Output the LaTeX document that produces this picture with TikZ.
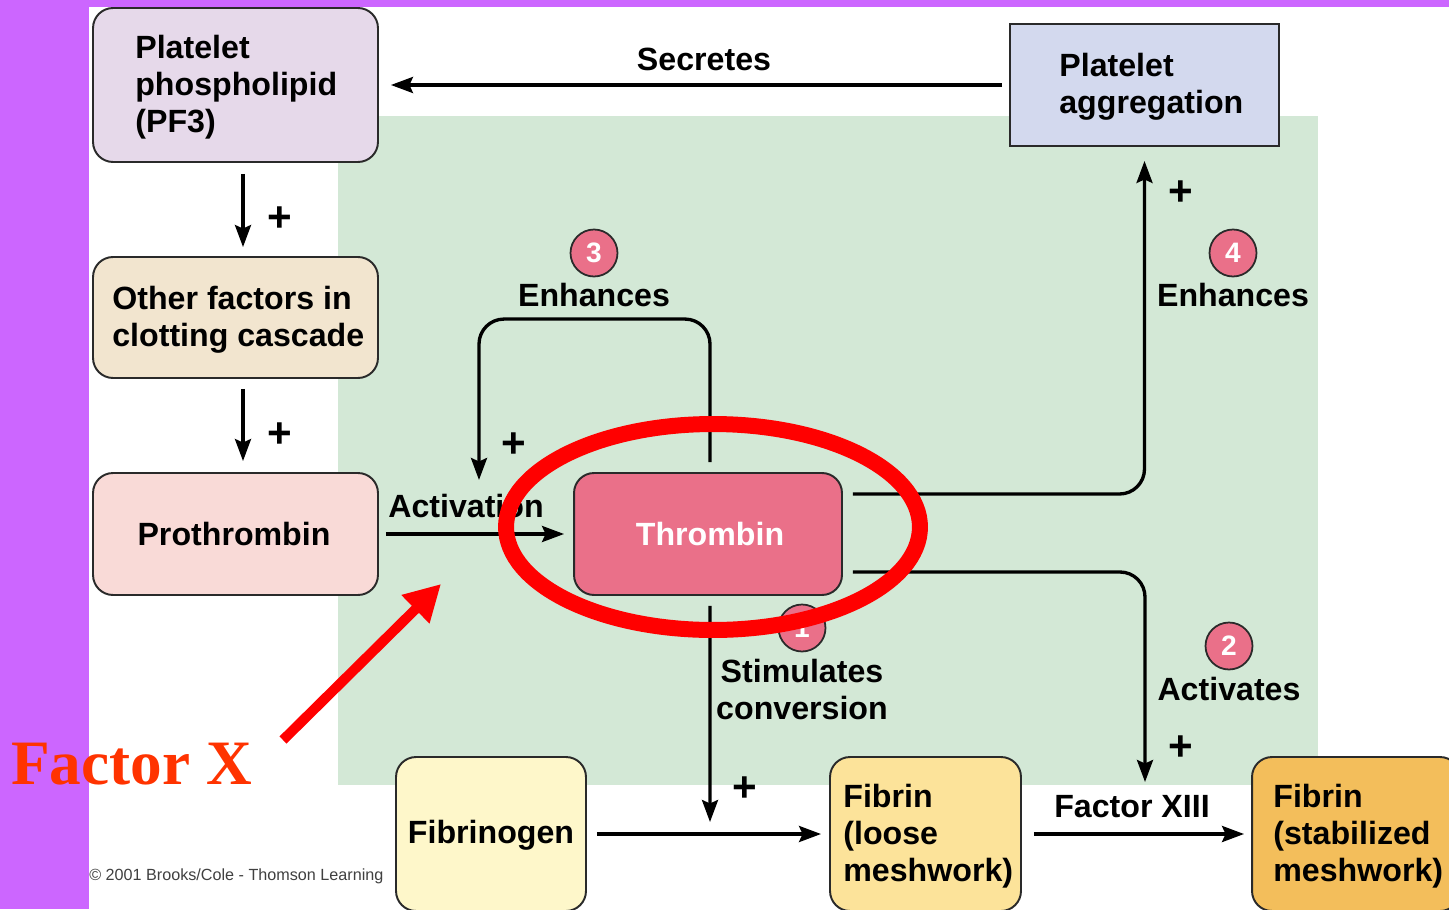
\documentclass[tikz,border=0pt]{standalone}
\usepackage{fontspec}
\setmainfont{Liberation Sans}
\newfontfamily\serifbold{Liberation Serif}
\usetikzlibrary{arrows.meta}
\definecolor{purplebg}{HTML}{CC66FF}
\definecolor{greenbg}{HTML}{D3E8D6}
\definecolor{pfcol}{HTML}{E6D9EA}
\definecolor{othcol}{HTML}{F2E5CF}
\definecolor{procol}{HTML}{F9DAD7}
\definecolor{aggcol}{HTML}{D3D9EE}
\definecolor{thrcol}{HTML}{EA7089}
\definecolor{fgcol}{HTML}{FEF7CA}
\definecolor{flcol}{HTML}{FCE39A}
\definecolor{fscol}{HTML}{F3BE5B}
\definecolor{fxred}{HTML}{FF3300}
\definecolor{bordc}{HTML}{2A2A2A}
\tikzset{
  box/.style={draw=bordc, line width=1.1pt, rounded corners=0.4cm, inner sep=0pt},
  sbox/.style={draw=bordc, line width=1.1pt, inner sep=0pt},
  txt/.style={font=\bfseries\fontsize{18.3}{21}\selectfont, align=left, inner sep=0pt},
  ctxt/.style={font=\bfseries\fontsize{18.3}{21}\selectfont, align=center, inner sep=0pt},
  plus/.style={font=\bfseries\fontsize{24}{24}\selectfont, inner sep=0pt},
  numc/.style={circle, draw=bordc, line width=1pt, fill=thrcol, minimum size=0.94cm, inner sep=0pt, text=white, font=\bfseries\fontsize{16}{16}\selectfont},
  arr/.style={line width=1.9pt, -{Stealth[length=0.44cm,width=0.32cm,inset=0.07cm]}},
  plain/.style={line width=1.9pt}
}
\begin{document}
\begin{tikzpicture}[x=0.02cm,y=-0.02cm]
\clip (0,0) rectangle (1449,909);
\fill[purplebg] (0,0) rectangle (1449,909);
\fill[white] (89,7) rectangle (1449,909);
\fill[greenbg] (338,116) rectangle (1318,785);

% boxes
\node[box, fill=pfcol, minimum width=5.7cm, minimum height=3.08cm] (pf3) at (235.5,85) {};
\node[txt, anchor=west] (pf3t) at (135,87.5) {Platelet\\phospholipid\\(PF3)};
\node[box, fill=othcol, minimum width=5.7cm, minimum height=2.42cm] (oth) at (235.5,317.5) {};
\node[txt, anchor=west] (otht) at (112,320) {Other factors in\\clotting cascade};
\node[box, fill=procol, minimum width=5.7cm, minimum height=2.44cm] (pro) at (235.5,534) {};
\node[txt] (prot) at (234,534) {Prothrombin};
\node[sbox, fill=aggcol, minimum width=5.38cm, minimum height=2.44cm] (agg) at (1144.5,85) {};
\node[txt, anchor=west] (aggt) at (1059,87) {Platelet\\aggregation};
\node[box, fill=thrcol, minimum width=5.36cm, minimum height=2.44cm] (thr) at (708,534) {};
\node[txt, text=white] (thrt) at (710,534) {Thrombin};
\node[box, fill=fgcol, minimum width=3.8cm, minimum height=3.08cm] (fg) at (491,834) {};
\node[txt] (fgt) at (491,835) {Fibrinogen};
\node[box, fill=flcol, minimum width=3.82cm, minimum height=3.08cm] (fl) at (925.5,834) {};
\node[txt, anchor=west] (flt) at (843,836.5) {Fibrin\\(loose\\meshwork)};
\node[box, fill=fscol, minimum width=4.16cm, minimum height=3.08cm] (fs) at (1356,834) {};
\node[txt, anchor=west] (fst) at (1273,836.5) {Fibrin\\(stabilized\\meshwork)};

% free ends
\coordinate (e3end) at (479,480);
\coordinate (f13end) at (1145,782);
\coordinate (stend) at (710,822);

% connectors
\draw[arr, shorten <=0.14cm, shorten >=0.24cm] (agg.west) -- (pf3.east);
\draw[arr, shorten <=0.22cm, shorten >=0.18cm] ([xshift=0.15cm]pf3.south) -- ([xshift=0.15cm]oth.north);
\draw[arr, shorten <=0.2cm, shorten >=0.22cm] ([xshift=0.15cm]oth.south) -- ([xshift=0.15cm]pro.north);
\draw[arr, shorten <=0.14cm, shorten >=0.18cm] (pro.east) -- (thr.west);
\draw[arr, rounded corners=0.5cm] ([xshift=0.04cm,yshift=0.2cm]thr.north) -- ++(0,-143) -| (e3end);
\draw[arr, rounded corners=0.5cm, shorten >=0.28cm] ([xshift=0.2cm,yshift=0.8cm]thr.east) -| (agg.south);
\draw[arr, rounded corners=0.5cm] ([xshift=0.2cm,yshift=-0.76cm]thr.east) -| (f13end);
\draw[arr] ([xshift=0.04cm,yshift=-0.2cm]thr.south) -- (stend);
\draw[arr, shorten <=0.2cm, shorten >=0.16cm] (fg.east) -- (fl.west);
\draw[arr, shorten <=0.24cm, shorten >=0.14cm] (fl.east) -- (fs.west);

% labels
\node[ctxt] (lsec) at (704,59) {Secretes};
\node[ctxt] (lact) at (466,506) {Activation};
\node[ctxt] (lenh3) at (594,295) {Enhances};
\node[ctxt] (lenh4) at (1233,295) {Enhances};
\node[ctxt] (lstim) at (802,689.5) {Stimulates\\conversion};
\node[ctxt] (lactv) at (1229,689) {Activates};
\node[ctxt] (lf13) at (1132,807) {Factor XIII};

\node[plus] (p1) at (280,219) {+};
\node[plus] (p2) at (280,435) {+};
\node[plus] (p3) at (514,445) {+};
\node[plus] (p4) at (1181,193) {+};
\node[plus] (p5) at (1181,748) {+};
\node[plus] (p6) at (745,789) {+};

\node[numc] (n3) at (594,253) {3};
\node[numc] (n4) at (1233,253) {4};
\node[numc] (n2) at (1229,646) {2};
\node[numc] (n1) at (802,628) {1};

\node[anchor=west, inner sep=0pt, text=black!75, font=\fontsize{9.2}{10}\selectfont] (copy) at (89,876) {© 2001 Brooks/Cole - Thomson Learning};

% red annotation
\draw[red, line width=0.32cm] (713,527) ellipse [x radius=4.14cm, y radius=2.06cm];
\node[anchor=base west, inner sep=0pt, text=fxred, font=\serifbold\bfseries\fontsize{36}{36}\selectfont] (fx) at (11,784) {Factor X};
\coordinate (rstart) at (283,740);
\coordinate (rend) at (441,584);
\draw[red, line width=0.2cm, -{Triangle[length=0.72cm,width=0.75cm]}] (rstart) -- (rend);
\end{tikzpicture}
\end{document}
